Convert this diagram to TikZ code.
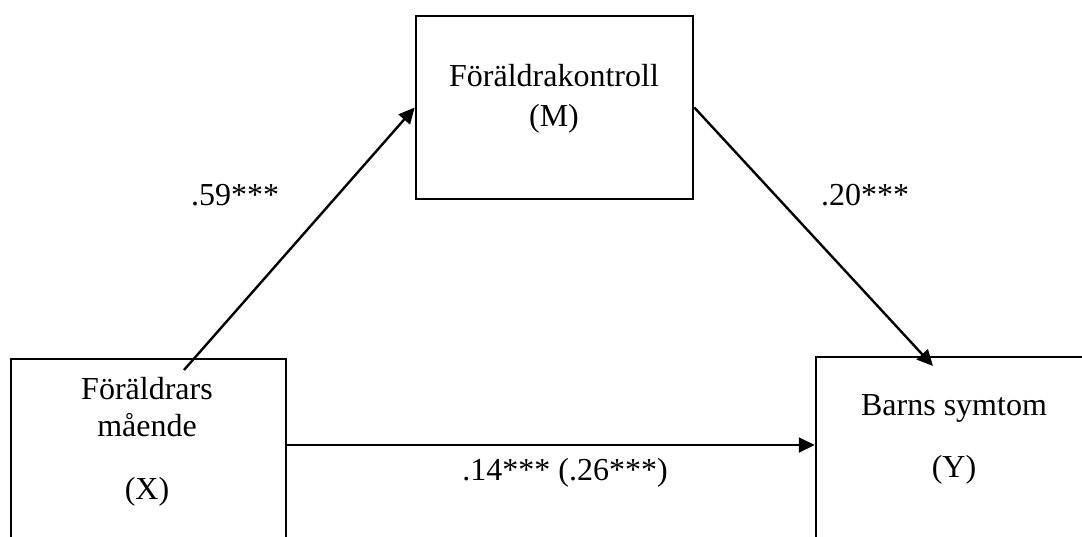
\documentclass[tikz,border=0pt]{standalone}
\usepackage{fontspec}
\setmainfont{Liberation Serif}
\usetikzlibrary{arrows.meta,positioning}
\tikzset{
  var box/.style={draw,rectangle,line width=0.95pt,inner sep=0pt},
  var text/.style={align=center,inner sep=0pt,font=\fontsize{12}{13.8}\selectfont},
  coef/.style={inner sep=0pt,font=\fontsize{12}{13.8}\selectfont},
  path arrow/.style={-{Triangle[length=6pt,width=5.6pt]},line width=0.9pt},
}
\begin{document}
\begin{tikzpicture}[x=0.375pt,y=-0.375pt]
  \useasboundingbox (0,0) rectangle (1082,537);
  \clip (0,0) rectangle (1082,537);
  % boxes
  \node[var box,minimum width=103.9pt,minimum height=68.6pt] (M) at (554.5,107.5) {};
  \node[var box,minimum width=103.1pt,minimum height=97.9pt] (X) at (148.5,489.5) {};
  \node[var box,minimum width=114pt,minimum height=98.6pt] (Y) at (968,488.5) {};
  % texts
  \node[var text] (mtext) at (554,99) {Föräldrakontroll\\[1.2pt](M)};
  \node[var text] (xtext) at (147,442) {Föräldrars\\mående\\[10pt](X)};
  \node[var text] (ytext) at (954,439) {Barns symtom\\[9.5pt](Y)};
  % free ends
  \coordinate (xs) at (184,370);
  \coordinate (ye) at (933,366);
  \coordinate (mid) at (0,445);
  % paths
  \draw[path arrow] (xs) -- (M.west);
  \draw[path arrow] (M.east) -- (ye);
  \draw[path arrow] (X.east |- mid) -- (Y.west |- mid);
  \node[coef] (a) at (235,195) {.59***};
  \node[coef] (b) at (865,195) {.20***};
  \node[coef] (c) at (565,473) {.14*** (.26***)};
\end{tikzpicture}
\end{document}
